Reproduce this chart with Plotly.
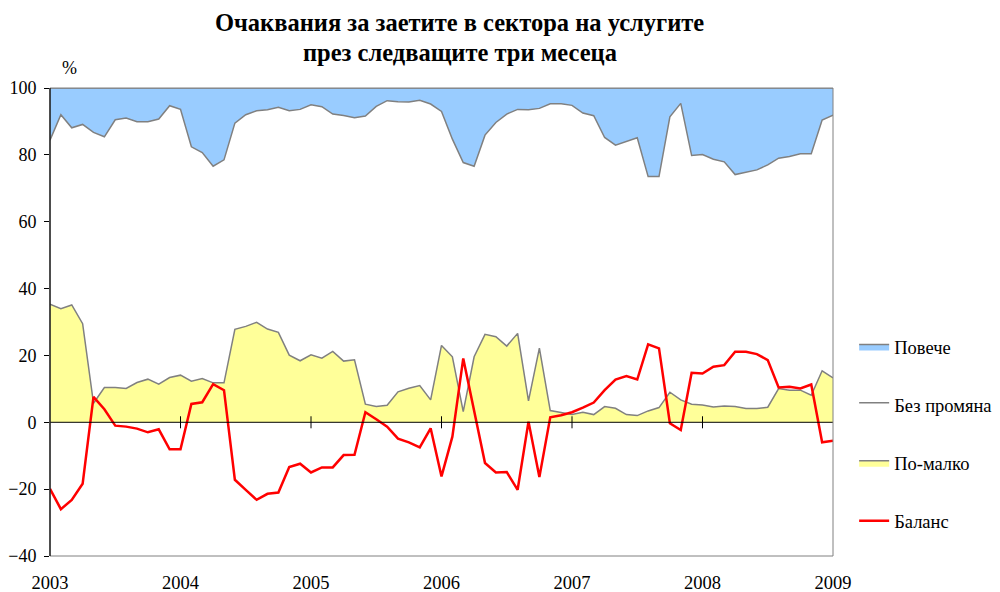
import plotly.graph_objects as go

# Monthly survey data, Jan 2003 .. Jan 2009
years = [2003, 2004, 2005, 2006, 2007, 2008, 2009]
n_months = 73

# Share expecting a decrease (bottom area)
po_malko = [35.3, 34.0, 35.1, 29.5, 5.7, 10.4, 10.4, 10.1, 11.9, 12.9, 11.4, 13.4,
            14.1, 12.3, 13.1, 11.8, 11.8, 27.8, 28.7, 29.9, 27.9, 26.9, 20.1, 18.4,
            20.2, 19.2, 21.2, 18.3, 18.7, 5.4, 4.7, 5.1, 9.1, 10.2, 11.0, 6.7,
            23.0, 19.6, 3.2, 19.6, 26.3, 25.6, 22.8, 26.6, 6.4, 22.2, 3.5, 2.9,
            2.3, 3.0, 2.3, 4.7, 4.2, 2.3, 2.0, 3.4, 4.4, 9.0, 6.7, 5.4,
            5.2, 4.6, 4.9, 4.7, 4.1, 4.1, 4.5, 10.1, 9.6, 9.6, 8.1, 15.4,
            13.3]

# Share expecting no change (middle area)
bez_promyana = [49.1, 58.0, 53.0, 59.6, 81.0, 75.0, 80.1, 80.9, 78.0, 77.0, 79.3, 81.3,
                79.5, 70.1, 67.6, 64.8, 66.7, 61.7, 63.3, 63.3, 65.6, 67.3, 73.1, 75.2,
                74.8, 75.2, 71.0, 73.5, 72.4, 86.2, 89.8, 91.1, 86.8, 85.6, 85.3, 88.5,
                70.0, 65.1, 74.5, 57.0, 59.6, 64.1, 69.4, 67.0, 87.1, 71.7, 91.8, 92.4,
                92.5, 89.5, 89.4, 80.5, 78.7, 81.7, 83.1, 70.1, 69.1, 82.4, 88.7, 74.4,
                74.9, 74.1, 73.0, 69.4, 70.7, 71.4, 72.5, 68.9, 69.9, 70.7, 72.2, 75.0,
                78.6]

# Share expecting an increase (top area)
poveche = [15.6, 8.0, 11.9, 10.9, 13.3, 14.6, 9.5, 9.0, 10.1, 10.1, 9.3, 5.3,
           6.4, 17.6, 19.3, 23.4, 21.5, 10.5, 8.0, 6.8, 6.5, 5.8, 6.8, 6.4,
           5.0, 5.6, 7.8, 8.2, 8.9, 8.4, 5.5, 3.8, 4.1, 4.2, 3.7, 4.8,
           7.0, 15.3, 22.3, 23.4, 14.1, 10.3, 7.8, 6.4, 6.5, 6.1, 4.7, 4.7,
           5.2, 7.5, 8.3, 14.8, 17.1, 16.0, 14.9, 26.5, 26.5, 8.6, 4.6, 20.2,
           19.9, 21.3, 22.1, 25.9, 25.2, 24.5, 23.0, 21.0, 20.5, 19.7, 19.7, 9.6,
           8.1]

# Balance (red line)
balans = [-19.9, -26.0, -23.2, -18.4, 7.6, 3.9, -1.0, -1.3, -1.9, -3.0, -2.1, -8.1,
          -8.1, 5.5, 6.0, 11.4, 9.6, -17.2, -20.2, -23.2, -21.4, -21.0, -13.4, -12.4,
          -15.0, -13.5, -13.5, -9.8, -9.7, 3.0, 0.9, -1.3, -4.9, -6.0, -7.5, -1.8,
          -16.2, -4.3, 19.1, 3.5, -12.2, -15.0, -14.9, -20.2, 0.2, -16.4, 1.5, 2.1,
          3.0, 4.4, 5.9, 9.6, 12.8, 13.8, 12.8, 23.3, 22.1, -0.3, -2.3, 14.8,
          14.6, 16.6, 17.1, 21.1, 21.1, 20.4, 18.6, 10.4, 10.6, 10.1, 11.3, -6.0,
          -5.5]

x = [years[0] + i / 12 for i in range(n_months)]

GRAY = "#808080"
SERIF = "Liberation Serif, Times New Roman, serif"

fig = go.Figure()

fig.add_trace(go.Scatter(
    x=x, y=po_malko, name="По-малко", stackgroup="a", mode="lines",
    line=dict(color=GRAY, width=1.5), fillcolor="#FFFF99",
    legendgroup="c", legendrank=3))
fig.add_trace(go.Scatter(
    x=x, y=bez_promyana, name="Без промяна", stackgroup="a", mode="lines",
    line=dict(color=GRAY, width=1.5), fillcolor="#FFFFFF",
    legendgroup="b", legendrank=2))
fig.add_trace(go.Scatter(
    x=x, y=poveche, name="Повече", stackgroup="a", mode="lines",
    line=dict(color=GRAY, width=1.5), fillcolor="#99CCFF",
    legendgroup="a", legendrank=1))
fig.add_trace(go.Scatter(
    x=x, y=balans, name="Баланс", mode="lines",
    line=dict(color="#FF0000", width=2.5),
    legendgroup="d", legendrank=4))

# zero line with year ticks crossing it
shapes = [dict(type="line", xref="x", yref="y", x0=years[0], x1=years[-1], y0=0, y1=0,
               line=dict(color="black", width=1), layer="above")]
for yr in years[1:-1]:
    shapes.append(dict(type="line", xref="x", yref="y", x0=yr, x1=yr, y0=-1.8, y1=1.8,
                       line=dict(color="black", width=1), layer="above"))
# plot-area border (gray)
shapes.append(dict(type="rect", xref="paper", yref="paper", x0=0, x1=1, y0=0, y1=1,
                   line=dict(color=GRAY, width=1), layer="above"))
# left axis line (black)
shapes.append(dict(type="line", xref="paper", yref="paper", x0=0, x1=0, y0=0, y1=1,
                   line=dict(color="black", width=1.2), layer="above"))

fig.update_layout(
    width=992, height=584,
    margin=dict(l=42, r=167, t=80, b=36, autoexpand=False),
    paper_bgcolor="white", plot_bgcolor="white",
    font=dict(family=SERIF, size=18, color="black"),
    showlegend=True,
    legend=dict(x=1.027, xanchor="left", y=0.487, yanchor="top",
                traceorder="grouped", tracegroupgap=31,
                font=dict(family=SERIF, size=18.5), bgcolor="rgba(0,0,0,0)"),
    shapes=shapes,
    annotations=[
        dict(text="<b>Очаквания за заетите в сектора на услугите</b>", xref="paper", yref="paper",
             x=0.523, y=1.141, xanchor="center", yanchor="middle", showarrow=False,
             font=dict(family=SERIF, size=24.5)),
        dict(text="<b>през следващите три месеца</b>", xref="paper", yref="paper",
             x=0.523, y=1.075, xanchor="center", yanchor="middle", showarrow=False,
             font=dict(family=SERIF, size=24.5)),
        dict(text="%", xref="paper", yref="paper", x=0.0245, y=1.0427,
             xanchor="center", yanchor="middle", showarrow=False,
             font=dict(family=SERIF, size=18)),
    ],
)

fig.update_xaxes(range=[years[0], years[-1]], tickvals=years, ticktext=[str(y) for y in years],
                 showgrid=False, zeroline=False, showline=False, automargin=False,
                 ticks="outside", ticklen=10, tickcolor="rgba(0,0,0,0)",
                 tickfont=dict(family=SERIF, size=18.5))
fig.update_yaxes(range=[-40, 100], tickvals=[-40, -20, 0, 20, 40, 60, 80, 100],
                 showgrid=False, zeroline=False, showline=False, automargin=False,
                 ticks="outside", ticklen=5, tickcolor="black", ticklabelstandoff=4,
                 tickfont=dict(family=SERIF, size=18))

fig.write_html("out.html")
